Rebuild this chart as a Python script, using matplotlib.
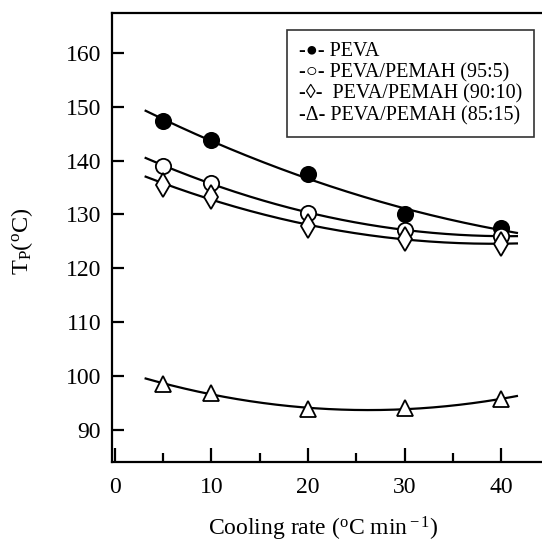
import numpy as np
import matplotlib
matplotlib.use("Agg")
import matplotlib.pyplot as plt
from matplotlib.lines import Line2D
from matplotlib.ticker import MultipleLocator

plt.rcParams["font.family"] = ["Liberation Serif", "DejaVu Serif"]
plt.rcParams["mathtext.fontset"] = "custom"
plt.rcParams["mathtext.rm"] = "Liberation Serif"
plt.rcParams["mathtext.it"] = "Liberation Serif:italic"

# peak crystallisation temperature vs cooling rate
cooling_rate = [5, 10, 20, 30, 40]
tp_peva = [147.4, 143.8, 137.5, 130.0, 127.5]
tp_95_5 = [139.0, 135.9, 130.3, 127.1, 126.0]
tp_90_10 = [135.5, 133.3, 127.8, 125.4, 124.6]
tp_85_15 = [98.6, 96.8, 93.8, 94.1, 95.7]

legend_labels = [
    "-\u25cf- PEVA",
    "-\u25cb- PEVA/PEMAH (95:5)",
    "-\u25ca-  PEVA/PEMAH (90:10)",
    "-\u0394- PEVA/PEMAH (85:15)",
]

series = [
    (tp_peva, "o", "black", 11),
    (tp_95_5, "o", "white", 11),
    (tp_90_10, "d", "white", 12),
    (tp_85_15, "^", "white", 12),
]

fig = plt.figure(figsize=(5.42, 5.46), dpi=100)
ax = fig.add_axes([0.2072, 0.1544, 0.80, 0.8227])

x = np.array(cooling_rate, dtype=float)
x_fit = np.linspace(3.2, 41.6, 200)
for values, marker, face, ms in series:
    coef = np.polyfit(x, values, 2)
    ax.plot(x_fit, np.polyval(coef, x_fit), color="black", lw=1.6, zorder=2)
    ax.plot(x, values, linestyle="none", marker=marker, markersize=ms,
            markerfacecolor=face, markeredgecolor="black", markeredgewidth=1.3,
            zorder=3)

ax.set_xlim(-0.25, 44.6)
ax.set_ylim(84.1, 167.5)
ax.xaxis.set_major_locator(MultipleLocator(10))
ax.xaxis.set_minor_locator(MultipleLocator(5))
ax.set_yticks(range(90, 161, 10))

for side in ["left", "bottom", "top", "right"]:
    ax.spines[side].set_linewidth(1.6)
ax.tick_params(axis="both", which="both", direction="in", labelsize=17,
               width=1.6, top=False, right=False)
ax.tick_params(axis="x", which="major", length=10, pad=11)
ax.tick_params(axis="x", which="minor", length=6.5)
ax.tick_params(axis="y", which="major", length=8.5, pad=8)

ax.set_xlabel(r"Cooling rate ($^{\rm o}$C min$^{\rm -1}$)", fontsize=17)
ax.xaxis.set_label_coords(0.486, -0.118)
ax.set_ylabel(r"T$_{\rm P}$($^{\rm o}$C)", fontsize=17.5)
ax.yaxis.set_label_coords(-0.178, 0.49)

handles = [Line2D([], [], linestyle="none") for _ in legend_labels]
leg = ax.legend(handles, legend_labels, loc="upper right",
                bbox_to_anchor=(0.9726, 0.961), fontsize=14.5, frameon=True,
                fancybox=False, edgecolor="black", handlelength=0,
                handletextpad=0, labelspacing=0.1, borderpad=0.6,
                borderaxespad=0)
leg.get_frame().set_linewidth(1.2)

fig.savefig("out.png", dpi=100)
